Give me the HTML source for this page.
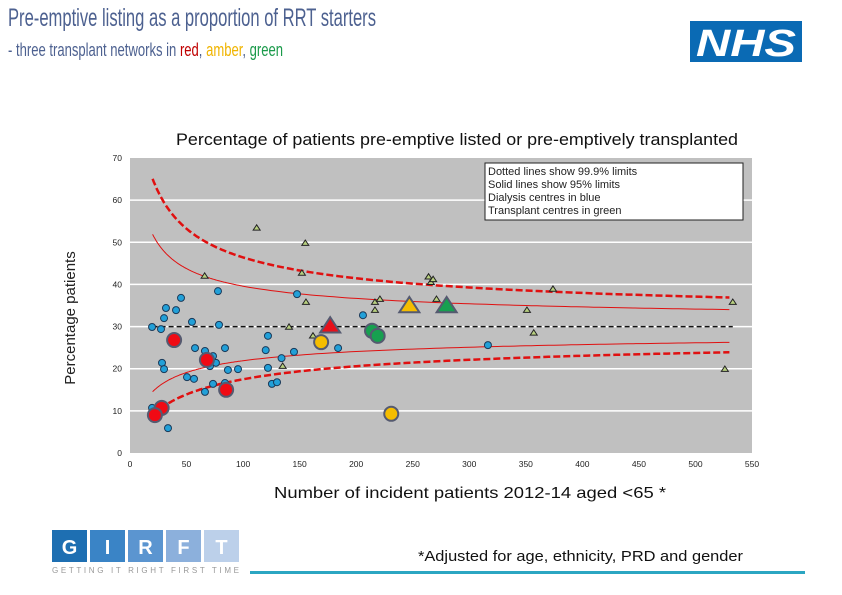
<!DOCTYPE html>
<html><head><meta charset="utf-8"><style>
html,body{margin:0;padding:0;background:#fff;}
svg{display:block;font-family:"Liberation Sans",sans-serif;}
</style></head><body>
<svg id="pg" width="842" height="595" viewBox="0 0 842 595">
<text x="8" y="26" font-family="Liberation Sans Narrow, Liberation Sans, sans-serif" font-size="25" fill="#4d6190" textLength="368" lengthAdjust="spacingAndGlyphs">Pre-emptive listing as a proportion of RRT starters</text>
<text x="8" y="56" font-family="Liberation Sans Narrow, Liberation Sans, sans-serif" font-size="18" fill="#4d6190" textLength="275" lengthAdjust="spacingAndGlyphs">- three transplant networks in <tspan fill="#c00000">red</tspan>, <tspan fill="#f0b400">amber</tspan>, <tspan fill="#1a9a4a">green</tspan></text>
<g>
<rect x="690" y="21" width="112" height="41" fill="#0a6ab4"/>
<text x="746" y="56" text-anchor="middle" font-size="38" font-weight="bold" font-style="italic" fill="#fff" textLength="100" lengthAdjust="spacingAndGlyphs">NHS</text>
</g>
<text x="457" y="145" text-anchor="middle" font-size="16.5" fill="#111" textLength="562" lengthAdjust="spacingAndGlyphs">Percentage of patients pre-emptive listed or pre-emptively transplanted</text>
<rect x="130" y="158" width="622" height="295" fill="#c0c0c0"/>
<g id="grid"></g>
<g id="axes"></g>
<g id="lims"></g>
<g id="marks"></g>
<g>
<rect x="485" y="163" width="258" height="57" fill="#fff" stroke="#222" stroke-width="1"/>
<text x="488" y="175" font-size="11" fill="#222">Dotted lines show 99.9% limits</text>
<text x="488" y="188" font-size="11" fill="#222">Solid lines show 95% limits</text>
<text x="488" y="201" font-size="11" fill="#222">Dialysis centres in blue</text>
<text x="488" y="214" font-size="11" fill="#222">Transplant centres in green</text>
</g>
<text transform="translate(75,318) rotate(-90)" text-anchor="middle" font-size="15" fill="#222">Percentage patients</text>
<text x="470" y="498" text-anchor="middle" font-size="16" fill="#111" textLength="392" lengthAdjust="spacingAndGlyphs">Number of incident  patients 2012-14  aged &lt;65 *</text>
<g>
<rect x="52" y="530" width="35" height="32" fill="#1e6fb2"/>
<rect x="90" y="530" width="35" height="32" fill="#3a84c6"/>
<rect x="128" y="530" width="35" height="32" fill="#5b95d0"/>
<rect x="166" y="530" width="35" height="32" fill="#8cb0dc"/>
<rect x="204" y="530" width="35" height="32" fill="#bcd0ea"/>
<text x="69.5" y="554" text-anchor="middle" font-size="20" font-weight="bold" fill="#fff">G</text>
<text x="107.5" y="554" text-anchor="middle" font-size="20" font-weight="bold" fill="#fff">I</text>
<text x="145.5" y="554" text-anchor="middle" font-size="20" font-weight="bold" fill="#fff">R</text>
<text x="183.5" y="554" text-anchor="middle" font-size="20" font-weight="bold" fill="#fff">F</text>
<text x="221.5" y="554" text-anchor="middle" font-size="20" font-weight="bold" fill="#fff">T</text>
<text x="52" y="573" font-size="8" fill="#999" textLength="187" lengthAdjust="spacing">GETTING IT RIGHT FIRST TIME</text>
</g>
<rect x="250" y="571" width="555" height="3" fill="#2ba6c2"/>
<text x="418" y="561" font-family="Liberation Sans Narrow, Liberation Sans, sans-serif" font-size="15" fill="#111" textLength="325" lengthAdjust="spacingAndGlyphs">*Adjusted for age, ethnicity, PRD and gender</text>
</svg>
<script>
const xTicks=[0,50,100,150,200,250,300,350,400,450,500,550];
const yTicks=[0,10,20,30,40,50,60,70];
const blueX=[19.5,27.4,30.1,31.8,40.7,45.1,54.8,77.8,78.7,57.5,66.3,73.4,76,70.7,84,28.3,30.1,50.4,56.6,73.4,66.3,84,86.6,95.5,33.6,19.5,122,120,134,145,122,125.5,130,147.7,206,184,316.5];
const blueY=[29.9,29.4,32,34.4,33.9,36.8,31.1,38.4,30.4,24.9,24.2,23,21.4,20.6,24.9,21.4,19.9,18,17.6,16.4,14.5,16.6,19.7,19.9,5.9,10.7,27.8,24.4,22.5,24,20.2,16.4,16.8,37.7,32.7,24.9,25.6];
const smallTriX=[112,155,66,152,264,266,268,155.6,216.6,221,216.6,140.6,161.8,135,374,533,351,357,526,271];
const smallTriY=[53.4,49.8,42,42.7,41.8,40.5,41.2,35.8,35.8,36.5,33.9,29.9,27.8,20.6,38.9,35.8,33.9,28.5,19.9,36.5];
const redCircX=[39,68,85,28,22];
const redCircY=[26.8,22.1,15,10.7,9];
const amberCircX=[169,231];
const amberCircY=[26.3,9.3];
const greenCircX=[214,219];
const greenCircY=[29,27.8];
const bigTriColor=['#e8101a','#f5bd00','#17a050'];
const bigTriX=[177,247,280];
const bigTriY=[30.1,34.9,34.9];
const target=30;

const NS='http://www.w3.org/2000/svg';
const X=v=>130+v*622/550, Y=v=>453-v*295/70;
function mk(tag,attrs,parent){const e=document.createElementNS(NS,tag);for(const k in attrs)e.setAttribute(k,attrs[k]);document.getElementById(parent).appendChild(e);return e;}
yTicks.forEach(t=>{
  if(t>0&&t<70){const l=mk('line',{x1:130,x2:752,y1:Y(t),y2:Y(t),stroke:'#fff','stroke-width':1.5},'grid');
  
  }
  const tx=mk('text',{x:122,y:Y(t)+3,'text-anchor':'end','font-size':8.5,fill:'#222'},'axes');tx.textContent=t;
  
  
});
xTicks.forEach(t=>{
  const tx=mk('text',{x:X(t),y:467,'text-anchor':'middle','font-size':8.5,fill:'#222'},'axes');tx.textContent=t;
  
  
});
// target line
const tl=mk('line',{x1:X(20),x2:X(533),y1:Y(target),y2:Y(target),stroke:'#111','stroke-width':1.5,'stroke-dasharray':'5,3'},'lims');


// Wilson limits
function wil(n,z,s){const p=target/100,d=1+z*z/n,c=(p+z*z/(2*n))/d,h=z*Math.sqrt(p*(1-p)/n+z*z/(4*n*n))/d;return (c+s*h)*100;}
[[1.96,1,'none',1,'upper-95-limit'],[1.96,-1,'none',1,'lower-95-limit'],[3.29,1,'7,3',2.5,'upper-999-limit'],[3.29,-1,'7,3',2.5,'lower-999-limit']].forEach(([z,s,da,w,nm])=>{
  let d='';for(let n=20;n<=533;n+=(n<100?1:5)){d+=(d?'L':'M')+X(n).toFixed(1)+','+Y(wil(n,z,s)).toFixed(1);}
  const p=mk('path',{d:d,fill:'none',stroke:'#e01010','stroke-width':w,'stroke-dasharray':da},'lims');
  
  
});
blueX.forEach((x,i)=>{const c=mk('circle',{cx:X(x),cy:Y(blueY[i]),r:3.5,fill:'#22a0d8',stroke:'#1a3a5a','stroke-width':1},'marks');
  
  });
function tri(cx,cy,s,fill,stroke,sw){const h=s*0.9;return mk('polygon',{points:`${cx},${cy-h} ${cx-s},${cy+h*0.7} ${cx+s},${cy+h*0.7}`,fill:fill,stroke:stroke,'stroke-width':sw},'marks');}
smallTriX.forEach((x,i)=>{const t=tri(X(x),Y(smallTriY[i]),3.5,'#b8d080','#222',1);
  
  });
function big(xs,ys,col,nm){xs.forEach((x,i)=>{const c=mk('circle',{cx:X(x),cy:Y(ys[i]),r:7,fill:col,stroke:'#555a70','stroke-width':2},'marks');
  
  });}
big(redCircX,redCircY,'#f00a14','red-network-point');
big(amberCircX,amberCircY,'#f5bd00','amber-network-point');
big(greenCircX,greenCircY,'#17a050','green-network-point');
bigTriX.forEach((x,i)=>{const t=tri(X(x),Y(bigTriY[i]),10,bigTriColor[i],'#555a70',2);
  
  });
</script>
</body></html>
